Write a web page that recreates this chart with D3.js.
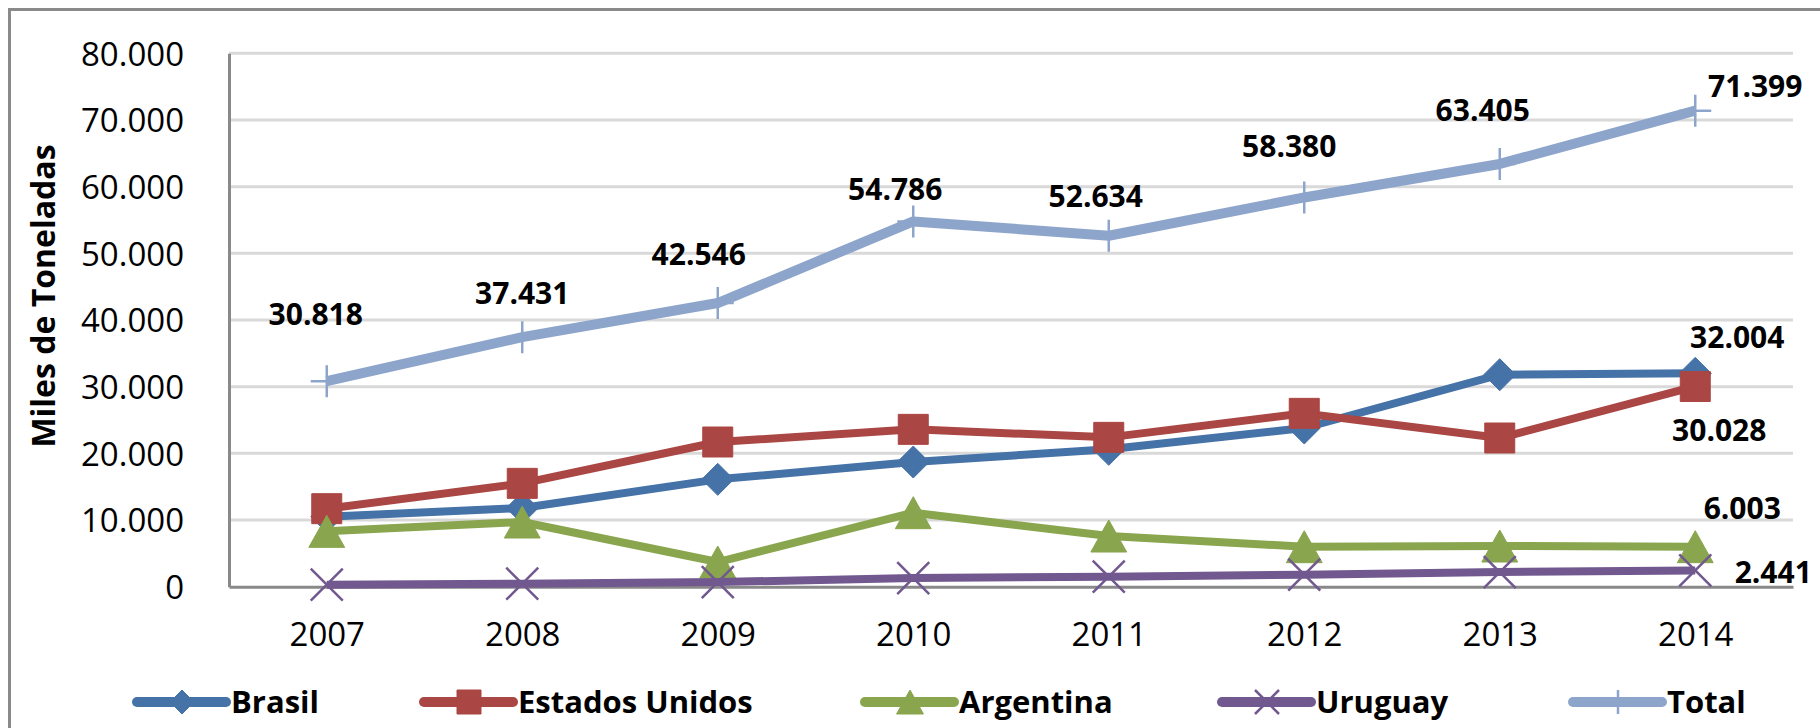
<!DOCTYPE html>
<html>
<head>
<meta charset="utf-8">
<script src="https://cdn.jsdelivr.net/npm/d3@7"></script>
<style>
  body { margin: 0; background: #fff; }
  text { font-family: "Open Sans", "Noto Sans", sans-serif; fill: #000; }
</style>
</head>
<body>
<script>
const years = [2007, 2008, 2009, 2010, 2011, 2012, 2013, 2014];
const brasil = [10500, 11800, 16100, 18700, 20600, 23800, 31800, 32004];
const estadosUnidos = [11700, 15500, 21700, 23600, 22400, 26000, 22300, 30028];
const argentina = [8300, 9700, 3700, 11100, 7600, 6000, 6100, 6003];
const uruguay = [300, 450, 700, 1300, 1500, 1800, 2200, 2441];
const total = [30818, 37431, 42546, 54786, 52634, 58380, 63405, 71399];
const yTicks = [0, 10000, 20000, 30000, 40000, 50000, 60000, 70000, 80000];

const width = 1820;
const height = 728;

const series = [
  { name: 'Brasil', values: brasil, color: '#4572A7', shape: 'diamond', lw: 8 },
  { name: 'Estados Unidos', values: estadosUnidos, color: '#AA4643', shape: 'square', lw: 8 },
  { name: 'Argentina', values: argentina, color: '#89A54E', shape: 'triangle', lw: 8 },
  { name: 'Uruguay', values: uruguay, color: '#71588F', shape: 'cross', lw: 8 },
  { name: 'Total', values: total, color: '#8EA5CB', shape: 'plus', lw: 10 }
];

// label placement (offset from the point, label baseline centre)
const labels = [
  { s: 4, i: 0, dx: -11, dy: -56 },
  { s: 4, i: 1, dx: 0, dy: -33 },
  { s: 4, i: 2, dx: -19, dy: -38 },
  { s: 4, i: 3, dx: -18, dy: -21 },
  { s: 4, i: 4, dx: -13, dy: -29 },
  { s: 4, i: 5, dx: -15, dy: -40 },
  { s: 4, i: 6, dx: -17, dy: -43 },
  { s: 4, i: 7, dx: 60, dy: -14 },
  { s: 0, i: 7, dx: 42, dy: -25 },
  { s: 1, i: 7, dx: 24, dy: 55 },
  { s: 2, i: 7, dx: 47, dy: -28 },
  { s: 3, i: 7, dx: 78, dy: 13 }
];

const legendX = [137, 424, 865, 1222, 1573];

const locale = d3.formatLocale({ decimal: ',', thousands: '.', grouping: [3], currency: ['', ''] });
const fmt = locale.format(',d');

const svg = d3.select('body').append('svg')
  .attr('width', width)
  .attr('height', height);

const x = d3.scalePoint().domain(years).range([229, 1793]).padding(0.5);
const y = d3.scaleLinear().domain([0, 80000]).range([586.7, 53.3]);

// outer frame (top and left edges only visible)
svg.append('path')
  .attr('d', `M9.5,728V9.5H${width}`)
  .attr('fill', 'none')
  .attr('stroke', '#8a8a8a')
  .attr('stroke-width', 3);

svg.append('g')
  .selectAll('line')
  .data(yTicks.slice(1))
  .enter().append('line')
    .attr('x1', 229).attr('x2', 1793)
    .attr('y1', d => y(d)).attr('y2', d => y(d))
    .attr('stroke', '#d9d9d9')
    .attr('stroke-width', 3);

const yAxis = svg.append('g')
  .attr('transform', 'translate(229,0)')
  .call(d3.axisLeft(y).tickValues(yTicks).tickFormat(fmt).tickSize(0).tickPadding(45));
yAxis.select('.domain').attr('stroke', '#898989').attr('stroke-width', 3);
yAxis.selectAll('text').attr('font-size', 33).attr('dy', '0.36em');

const xAxis = svg.append('g')
  .attr('transform', `translate(0,${y(0)})`)
  .call(d3.axisBottom(x).tickSize(0).tickPadding(36));
xAxis.select('.domain').attr('stroke', '#898989').attr('stroke-width', 3);
xAxis.selectAll('text').attr('font-size', 33).attr('dy', '0.71em');

svg.append('text')
  .attr('transform', 'translate(55,296) rotate(-90)')
  .attr('text-anchor', 'middle')
  .attr('font-size', 32)
  .attr('font-weight', 'bold')
  .text('Miles de Toneladas');

const marker = (shape, r) => {
  if (shape === 'diamond') return `M0,${-r}L${r},0L0,${r}L${-r},0Z`;
  if (shape === 'square') return `M${-r},${-r}H${r}V${r}H${-r}Z`;
  if (shape === 'triangle') return `M0,${-r}L${r * 1.12},${r}H${-r * 1.12}Z`;
  if (shape === 'cross') return `M${-r},${-r}L${r},${r}M${r},${-r}L${-r},${r}`;
  return `M0,${-r}V${r}M${-r},0H${r}`;
};
const filled = shape => shape === 'diamond' || shape === 'square' || shape === 'triangle';

const line = d3.line()
  .x((d, i) => x(years[i]))
  .y(d => y(d));

const groups = svg.selectAll('.series')
  .data(series)
  .enter().append('g')
    .attr('class', 'series');

groups.append('path')
  .attr('d', d => line(d.values))
  .attr('fill', 'none')
  .attr('stroke', d => d.color)
  .attr('stroke-width', d => d.lw)
  .attr('stroke-linejoin', 'round');

groups.each(function(s) {
  d3.select(this).selectAll('.pt')
    .data(s.values)
    .enter().append('path')
      .attr('class', 'pt')
      .attr('transform', (d, i) => `translate(${x(years[i])},${y(d)})`)
      .attr('d', marker(s.shape, s.shape === 'square' ? 15 : 16))
      .attr('fill', filled(s.shape) ? s.color : 'none')
      .attr('stroke', s.color)
      .attr('stroke-width', filled(s.shape) ? 1 : 2.5);
});

svg.append('g')
  .selectAll('text')
  .data(labels)
  .enter().append('text')
    .attr('x', d => x(years[d.i]) + d.dx)
    .attr('y', d => y(series[d.s].values[d.i]) + d.dy)
    .attr('text-anchor', 'middle')
    .attr('font-size', 30)
    .attr('font-weight', 'bold')
    .text(d => fmt(series[d.s].values[d.i]));

const legend = svg.append('g')
  .selectAll('g')
  .data(series)
  .enter().append('g')
    .attr('transform', (d, i) => `translate(${legendX[i]},702)`);

legend.append('line')
  .attr('x1', 0).attr('x2', 89)
  .attr('stroke', d => d.color)
  .attr('stroke-width', 10)
  .attr('stroke-linecap', 'round');

legend.append('path')
  .attr('transform', 'translate(45,0)')
  .attr('d', d => marker(d.shape, 12))
  .attr('fill', d => filled(d.shape) ? d.color : 'none')
  .attr('stroke', d => d.color)
  .attr('stroke-width', d => filled(d.shape) ? 1 : 2.5);

legend.append('text')
  .attr('x', 94)
  .attr('y', 11)
  .attr('font-size', 31)
  .attr('font-weight', 'bold')
  .text(d => d.name);
</script>
</body>
</html>
